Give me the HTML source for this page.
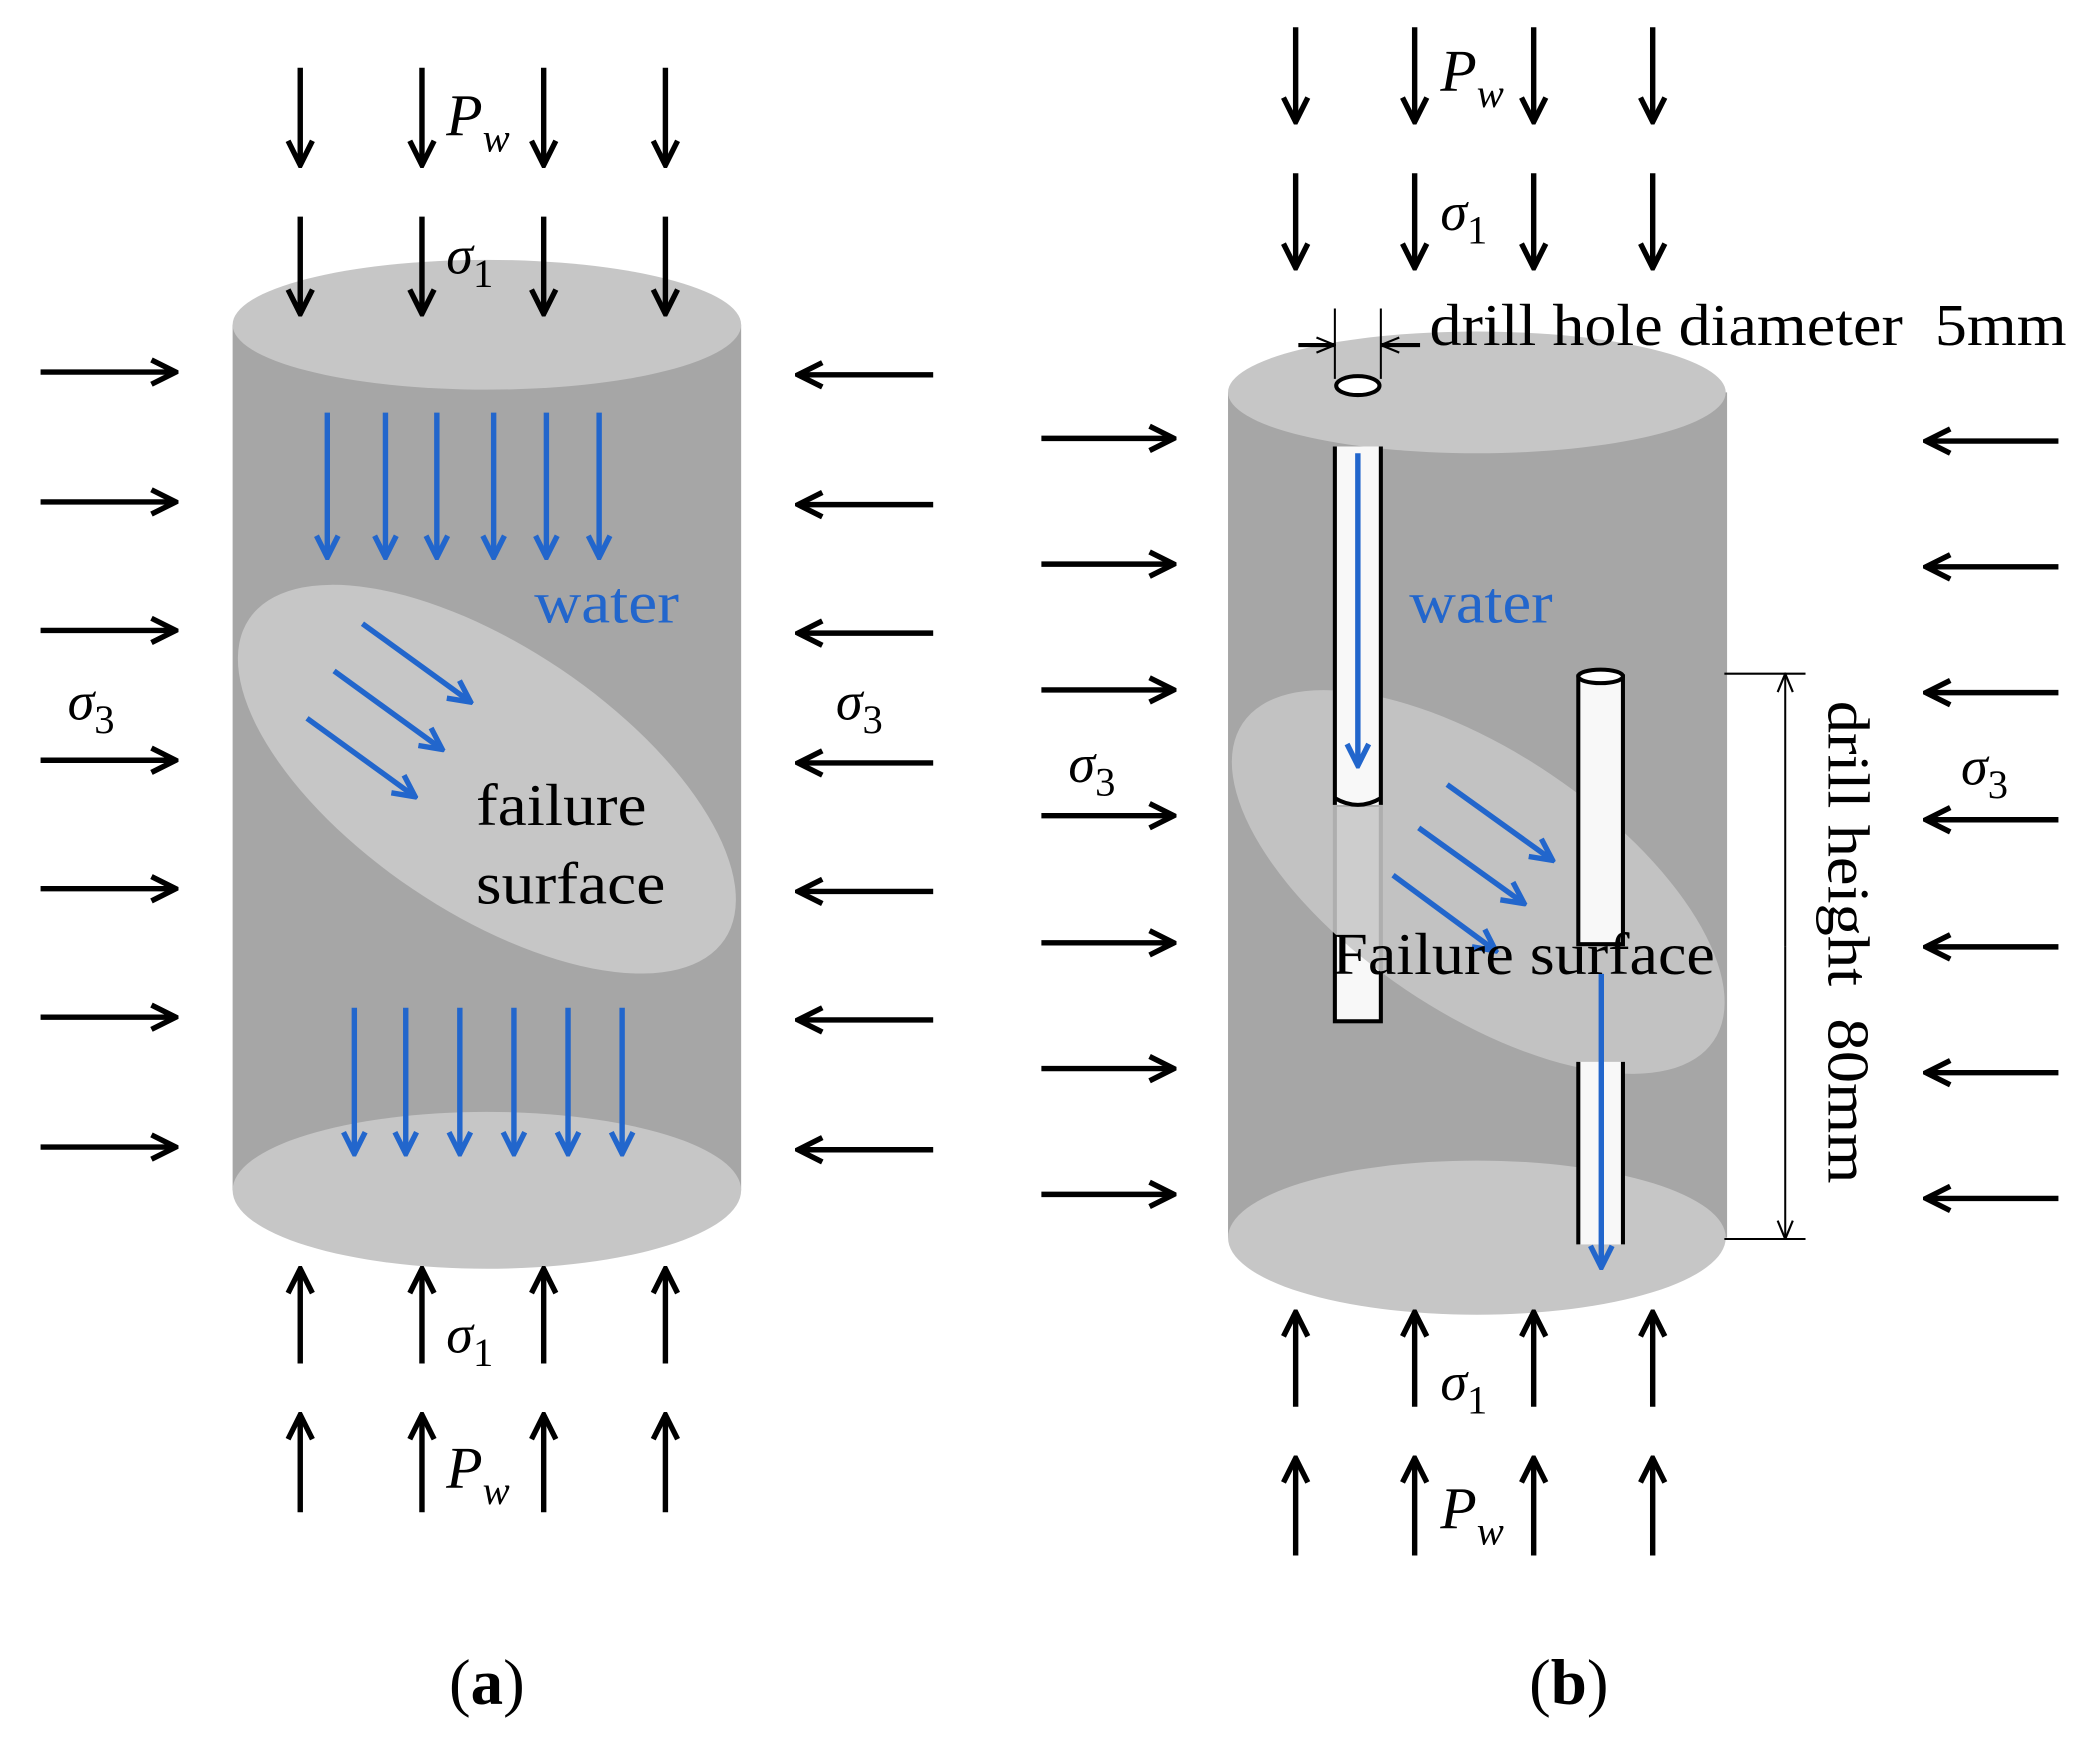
<!DOCTYPE html>
<html><head><meta charset="utf-8"><style>html,body{margin:0;padding:0;background:#fff}svg{display:block}</style></head>
<body>
<svg width="2099" height="1745" viewBox="0 0 1552 1290" xmlns="http://www.w3.org/2000/svg" font-family="Liberation Serif, serif">
<defs>
<marker id="k" markerUnits="userSpaceOnUse" viewBox="0 0 22 22" refX="20" refY="11" markerWidth="22" markerHeight="22" orient="auto"><path d="M2,2 L20,11 L2,20" fill="none" stroke="#000" stroke-width="4"/></marker>
<marker id="b" markerUnits="userSpaceOnUse" viewBox="0 0 20 20" refX="18" refY="10" markerWidth="20" markerHeight="20" orient="auto"><path d="M2,2 L18,10 L2,18" fill="none" stroke="#2266cc" stroke-width="4"/></marker>
<marker id="t" markerUnits="userSpaceOnUse" viewBox="0 0 20 20" refX="19" refY="10" markerWidth="16" markerHeight="16" orient="auto"><path d="M2,3 L19,10 L2,17" fill="none" stroke="#000" stroke-width="2"/></marker>
</defs>

<!-- ===== Panel (a) ===== -->
<rect x="172" y="240" width="376" height="640" fill="#a6a6a6"/>
<ellipse cx="360" cy="880" rx="188" ry="58" fill="#c6c6c6"/>
<ellipse cx="360" cy="240" rx="188" ry="48" fill="#c6c6c6"/>
<ellipse cx="360" cy="576" rx="212" ry="98" transform="rotate(34 360 576)" fill="#c6c6c6"/>

<g stroke="#000" stroke-width="4" marker-end="url(#k)">
<line x1="222" y1="50" x2="222" y2="122"/><line x1="312" y1="50" x2="312" y2="122"/><line x1="402" y1="50" x2="402" y2="122"/><line x1="492" y1="50" x2="492" y2="122"/>
<line x1="222" y1="160" x2="222" y2="232"/><line x1="312" y1="160" x2="312" y2="232"/><line x1="402" y1="160" x2="402" y2="232"/><line x1="492" y1="160" x2="492" y2="232"/>
<line x1="222" y1="1008" x2="222" y2="938"/><line x1="312" y1="1008" x2="312" y2="938"/><line x1="402" y1="1008" x2="402" y2="938"/><line x1="492" y1="1008" x2="492" y2="938"/>
<line x1="222" y1="1118" x2="222" y2="1046"/><line x1="312" y1="1118" x2="312" y2="1046"/><line x1="402" y1="1118" x2="402" y2="1046"/><line x1="492" y1="1118" x2="492" y2="1046"/>
<line x1="30" y1="275" x2="130" y2="275"/><line x1="30" y1="371" x2="130" y2="371"/><line x1="30" y1="466" x2="130" y2="466"/><line x1="30" y1="562" x2="130" y2="562"/><line x1="30" y1="657" x2="130" y2="657"/><line x1="30" y1="752" x2="130" y2="752"/><line x1="30" y1="848" x2="130" y2="848"/>
<line x1="690" y1="277" x2="590" y2="277"/><line x1="690" y1="373" x2="590" y2="373"/><line x1="690" y1="468" x2="590" y2="468"/><line x1="690" y1="564" x2="590" y2="564"/><line x1="690" y1="659" x2="590" y2="659"/><line x1="690" y1="754" x2="590" y2="754"/><line x1="690" y1="850" x2="590" y2="850"/>
</g>
<g stroke="#2266cc" stroke-width="4" marker-end="url(#b)">
<line x1="242" y1="305" x2="242" y2="412"/><line x1="285" y1="305" x2="285" y2="412"/><line x1="323" y1="305" x2="323" y2="412"/><line x1="365" y1="305" x2="365" y2="412"/><line x1="404" y1="305" x2="404" y2="412"/><line x1="443" y1="305" x2="443" y2="412"/>
<line x1="262" y1="745" x2="262" y2="853"/><line x1="300" y1="745" x2="300" y2="853"/><line x1="340" y1="745" x2="340" y2="853"/><line x1="380" y1="745" x2="380" y2="853"/><line x1="420" y1="745" x2="420" y2="853"/><line x1="460" y1="745" x2="460" y2="853"/>
<line x1="268" y1="461" x2="348" y2="519"/><line x1="247" y1="496" x2="327" y2="554"/><line x1="227" y1="531" x2="307" y2="589"/>
</g>
<text x="395" y="460" font-size="44" fill="#2266cc" textLength="107" lengthAdjust="spacingAndGlyphs">water</text>
<text x="352" y="610" font-size="44" textLength="126" lengthAdjust="spacingAndGlyphs">failure</text>
<text x="352" y="668" font-size="44" textLength="140" lengthAdjust="spacingAndGlyphs">surface</text>
<text x="330" y="100" font-size="44" font-style="italic">P<tspan font-size="30" dy="12">w</tspan></text>
<text x="330" y="202" font-size="40" font-style="italic">σ<tspan font-size="30" font-style="normal" dy="10">1</tspan></text>
<text x="330" y="1000" font-size="40" font-style="italic">σ<tspan font-size="30" font-style="normal" dy="10">1</tspan></text>
<text x="330" y="1100" font-size="44" font-style="italic">P<tspan font-size="30" dy="12">w</tspan></text>
<text x="50" y="532" font-size="40" font-style="italic">σ<tspan font-size="30" font-style="normal" dy="10">3</tspan></text>
<text x="618" y="532" font-size="40" font-style="italic">σ<tspan font-size="30" font-style="normal" dy="10">3</tspan></text>
<text x="360" y="1260" font-size="48" text-anchor="middle">(<tspan font-weight="bold">a</tspan>)</text>

<!-- ===== Panel (b) ===== -->
<rect x="908" y="290" width="369" height="625" fill="#a6a6a6"/>
<ellipse cx="1092" cy="915" rx="184" ry="57" fill="#c6c6c6"/>
<ellipse cx="1092" cy="290" rx="184" ry="45" fill="#c6c6c6"/>
<rect x="987" y="595" width="34" height="160" fill="#f8f8f8" stroke="#000" stroke-width="3"/>
<ellipse cx="1093" cy="652" rx="210" ry="96" transform="rotate(34 1093 652)" fill="#c6c6c6" fill-opacity="0.88"/>
<rect x="987" y="330" width="34" height="265" fill="#f8f8f8"/>
<line x1="987" y1="330" x2="987" y2="595" stroke="#000" stroke-width="3"/>
<line x1="1021" y1="330" x2="1021" y2="595" stroke="#000" stroke-width="3"/>
<path d="M987,590 Q1004,600 1021,590" fill="none" stroke="#000" stroke-width="3"/>
<ellipse cx="1004" cy="285" rx="16" ry="7" fill="#fff" stroke="#000" stroke-width="3"/>
<rect x="1167" y="500" width="33" height="198" fill="#f8f8f8" stroke="#000" stroke-width="3"/>
<ellipse cx="1183.5" cy="500" rx="16.5" ry="5" fill="#fff" stroke="#000" stroke-width="3"/>
<rect x="1167" y="785" width="33" height="135" fill="#f8f8f8"/>
<line x1="1167" y1="785" x2="1167" y2="920" stroke="#000" stroke-width="3"/>
<line x1="1200" y1="785" x2="1200" y2="920" stroke="#000" stroke-width="3"/>

<g stroke="#000" stroke-width="4" marker-end="url(#k)">
<line x1="958" y1="20" x2="958" y2="90"/><line x1="1046" y1="20" x2="1046" y2="90"/><line x1="1134" y1="20" x2="1134" y2="90"/><line x1="1222" y1="20" x2="1222" y2="90"/>
<line x1="958" y1="128" x2="958" y2="198"/><line x1="1046" y1="128" x2="1046" y2="198"/><line x1="1134" y1="128" x2="1134" y2="198"/><line x1="1222" y1="128" x2="1222" y2="198"/>
<line x1="958" y1="1040" x2="958" y2="970"/><line x1="1046" y1="1040" x2="1046" y2="970"/><line x1="1134" y1="1040" x2="1134" y2="970"/><line x1="1222" y1="1040" x2="1222" y2="970"/>
<line x1="958" y1="1150" x2="958" y2="1078"/><line x1="1046" y1="1150" x2="1046" y2="1078"/><line x1="1134" y1="1150" x2="1134" y2="1078"/><line x1="1222" y1="1150" x2="1222" y2="1078"/>
<line x1="770" y1="324" x2="868" y2="324"/><line x1="770" y1="417" x2="868" y2="417"/><line x1="770" y1="510" x2="868" y2="510"/><line x1="770" y1="603" x2="868" y2="603"/><line x1="770" y1="697" x2="868" y2="697"/><line x1="770" y1="790" x2="868" y2="790"/><line x1="770" y1="883" x2="868" y2="883"/>
<line x1="1522" y1="326" x2="1424" y2="326"/><line x1="1522" y1="419" x2="1424" y2="419"/><line x1="1522" y1="512" x2="1424" y2="512"/><line x1="1522" y1="606" x2="1424" y2="606"/><line x1="1522" y1="700" x2="1424" y2="700"/><line x1="1522" y1="793" x2="1424" y2="793"/><line x1="1522" y1="886" x2="1424" y2="886"/>
</g>
<g stroke="#2266cc" stroke-width="4" marker-end="url(#b)">
<line x1="1004" y1="335" x2="1004" y2="566"/>
<line x1="1184" y1="720" x2="1184" y2="937"/>
<line x1="1070" y1="580" x2="1148" y2="636"/><line x1="1049" y1="612" x2="1127" y2="668"/><line x1="1030" y1="647" x2="1106" y2="703"/>
</g>
<g stroke="#000" stroke-width="1.5">
<line x1="987" y1="228" x2="987" y2="280"/><line x1="1021" y1="228" x2="1021" y2="280"/>
</g>
<g stroke="#000" stroke-width="3">
<line x1="960" y1="255" x2="987" y2="255" marker-end="url(#t)"/>
<line x1="1050" y1="255" x2="1021" y2="255" marker-end="url(#t)"/>
</g>
<text x="1057" y="255" font-size="44" textLength="471" lengthAdjust="spacingAndGlyphs">drill hole diameter&#160;&#160;5mm</text>
<g stroke="#000" stroke-width="1.5">
<line x1="1275" y1="498" x2="1335" y2="498"/><line x1="1275" y1="916" x2="1335" y2="916"/>
<line x1="1320" y1="700" x2="1320" y2="498" marker-end="url(#t)"/>
<line x1="1320" y1="700" x2="1320" y2="916" marker-end="url(#t)"/>
</g>
<text transform="translate(1352,518) rotate(90)" font-size="44" textLength="357" lengthAdjust="spacingAndGlyphs">drill height&#160;&#160;80mm</text>

<text x="1042" y="460" font-size="44" fill="#2266cc" textLength="106" lengthAdjust="spacingAndGlyphs">water</text>
<text x="985" y="720" font-size="44" textLength="283" lengthAdjust="spacingAndGlyphs">Failure surface</text>
<text x="1065" y="67" font-size="44" font-style="italic">P<tspan font-size="30" dy="12">w</tspan></text>
<text x="1065" y="170" font-size="40" font-style="italic">σ<tspan font-size="30" font-style="normal" dy="10">1</tspan></text>
<text x="1065" y="1035" font-size="40" font-style="italic">σ<tspan font-size="30" font-style="normal" dy="10">1</tspan></text>
<text x="1065" y="1130" font-size="44" font-style="italic">P<tspan font-size="30" dy="12">w</tspan></text>
<text x="790" y="578" font-size="40" font-style="italic">σ<tspan font-size="30" font-style="normal" dy="10">3</tspan></text>
<text x="1450" y="580" font-size="40" font-style="italic">σ<tspan font-size="30" font-style="normal" dy="10">3</tspan></text>
<text x="1160" y="1260" font-size="48" text-anchor="middle">(<tspan font-weight="bold">b</tspan>)</text>
</svg>
</body></html>
